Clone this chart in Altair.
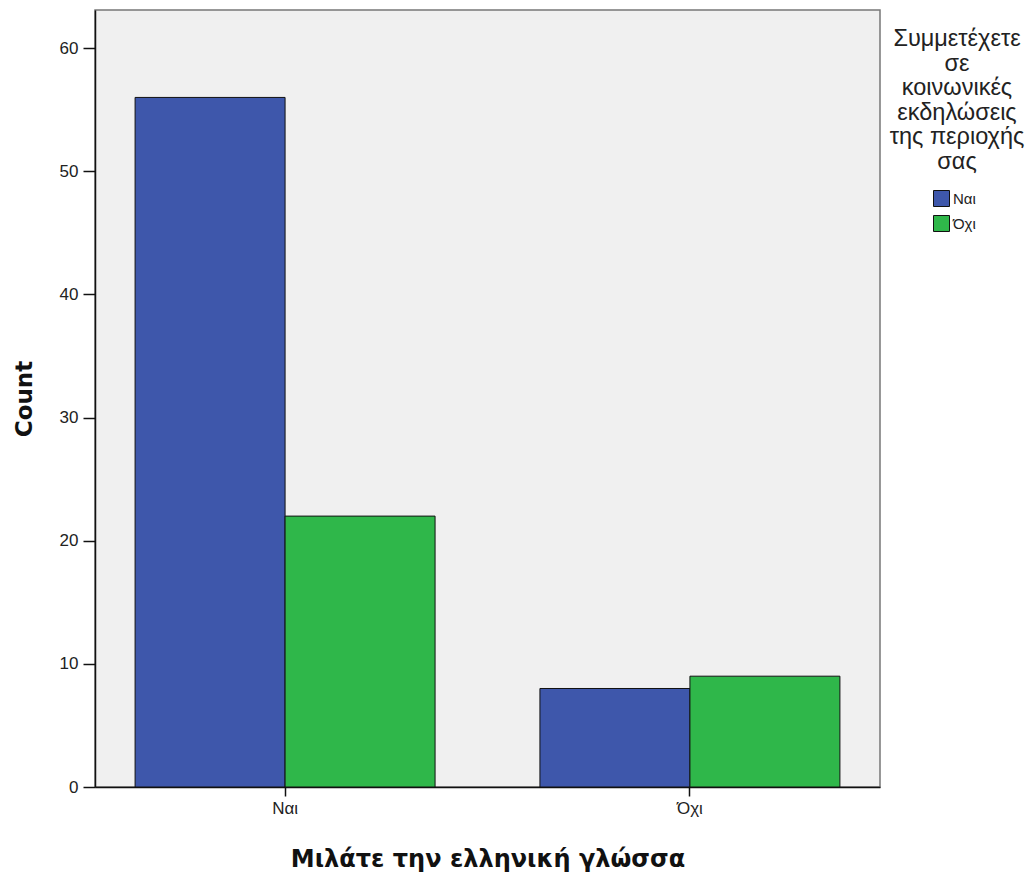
import altair as alt
import pandas as pd

speak_greek = ["Ναι", "Ναι", "Όχι", "Όχι"]
participate = ["Ναι", "Όχι", "Ναι", "Όχι"]
counts = [56, 22, 8, 9]

categories = ["Ναι", "Όχι"]
colors = ["#3E57AB", "#2FB74A"]
y_ticks = [0, 10, 20, 30, 40, 50, 60]
legend_title = ["Συμμετέχετε", "σε", "κοινωνικές", "εκδηλώσεις", "της περιοχής", "σας"]

df = pd.DataFrame({"lang": speak_greek, "part": participate, "count": counts})

bars = alt.Chart(df).mark_bar(stroke="#111111", strokeWidth=1, opacity=1).encode(
    x=alt.X("lang:N", sort=categories,
            scale=alt.Scale(paddingInner=0.259, paddingOuter=0.099),
            axis=alt.Axis(title="Μιλάτε την ελληνική γλώσσα", labelAngle=0,
                          labelFont="Liberation Sans", labelFontSize=17, labelColor="#222222",
                          titleFont="DejaVu Sans", titleFontSize=24, titleFontWeight="bold",
                          titleColor="#111111", titlePadding=31, labelPadding=4,
                          tickSize=9, tickColor="#111111", domainColor="#111111",
                          domainWidth=1.5, tickWidth=1.5)),
    xOffset=alt.XOffset("part:N", sort=categories, scale=alt.Scale(paddingInner=0, paddingOuter=0)),
    y=alt.Y("count:Q", scale=alt.Scale(domain=[0, 63.1], nice=False),
            axis=alt.Axis(title="Count", values=y_ticks, grid=False,
                          labelFont="Liberation Sans", labelFontSize=17, labelColor="#222222",
                          titleFont="DejaVu Sans", titleFontSize=23, titleFontWeight="bold",
                          titleColor="#111111", titlePadding=23, labelPadding=5,
                          tickSize=12, tickColor="#111111", domainColor="#111111",
                          domainWidth=1.5, tickWidth=1.5)),
    color=alt.Color("part:N", sort=categories,
                    scale=alt.Scale(domain=categories, range=colors),
                    legend=alt.Legend(title=legend_title, orient="none", legendX=795, legendY=17,
                                      titleFont="Liberation Sans", titleFontSize=23.5,
                                      titleFontWeight="normal", titleColor="#222222",
                                      titleAlign="center", titleAnchor="middle",
                                      titleLineHeight=24.5, titlePadding=17,
                                      symbolType="square", symbolSize=256,
                                      symbolStrokeColor="#111111", symbolStrokeWidth=1,
                                      symbolOpacity=1, symbolOffset=-5,
                                      labelFont="Liberation Sans", labelFontSize=15,
                                      labelColor="#222222", labelOffset=3,
                                      rowPadding=4, padding=0)),
)

chart = bars.properties(
    width=785, height=777,
    autosize=alt.AutoSizeParams(type="none"),
    padding={"left": 87, "top": 2, "right": 148, "bottom": 85},
    background="white",
).configure_view(
    fill="#F0F0F0", stroke="#777777", strokeWidth=1.5
)

chart.save("out.html", embed_options={"renderer": "svg", "actions": False})
